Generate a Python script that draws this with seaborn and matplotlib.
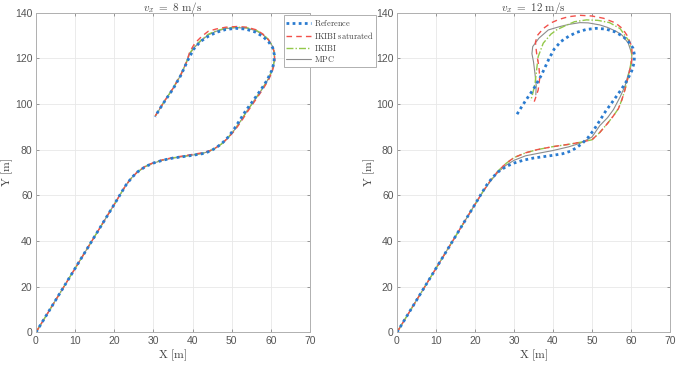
import matplotlib
matplotlib.use("Agg")
import matplotlib.pyplot as plt
import seaborn as sns
import pandas as pd

# ---------------- data ----------------
ref_x = [0, 5, 10, 15, 20, 21.5, 23, 24.5, 26, 28, 30, 32.5, 35, 37.5, 40, 42.5, 44.5, 46, 47.5, 49,
         50.5, 52, 53.5, 55.5, 57.5, 59, 60.2, 60.8, 60.9, 60.5, 59.5, 58, 56, 53.5, 51, 48.5, 46, 44,
         42, 40.3, 38.9, 37, 35, 33, 31.5, 30.4]
ref_y = [0, 14, 28, 42, 56, 60.3, 64.5, 67.8, 70.3, 72.6, 74.1, 75.4, 76.3, 76.9, 77.5, 78.2, 79.3, 80.8,
         82.7, 85.3, 88.7, 92.7, 96.8, 101.5, 106.3, 110.3, 114.5, 118, 121.5, 124.5, 127, 129.5, 131.5,
         132.8, 133.1, 132.6, 131.3, 129.6, 127.3, 124, 119.5, 112.5, 106.5, 101.5, 97.5, 94.4]

# v_x = 8 m/s
sat8_x = [0, 5, 10, 15, 20, 21.5, 23, 24.5, 26, 28, 30, 32.5, 35, 37.5, 40, 42.5, 44.5, 46, 47.5, 49,
          50.7, 52.3, 54, 56, 58, 59.5, 60.5, 61, 60.9, 60.3, 59.2, 57.8, 56.2, 53.8, 51.3, 48.5, 46, 44,
          42.3, 40.6, 39.3, 38.5, 37, 35, 33, 31.5, 30.5]
sat8_y = [0, 14, 28, 42, 56, 60.3, 64.5, 67.8, 70.4, 72.8, 74.3, 75.6, 76.5, 77.2, 77.9, 78.6, 79.6, 80.9,
          82.6, 85, 88.2, 92, 96.5, 101.5, 106.5, 110.8, 115, 119, 122.5, 125.8, 128.5, 130.8, 132.5,
          133.6, 133.9, 133.6, 132.8, 131.8, 129.5, 126.6, 122.9, 118.5, 112.8, 106.8, 101.7, 97.6, 94.8]
ik8_x = [0, 5, 10, 15, 20, 21.5, 23, 24.5, 26, 28, 30, 32.5, 35, 37.5, 40, 42.5, 44.5, 46, 47.5, 49,
         50.6, 52.2, 53.8, 55.8, 57.8, 59.3, 60.4, 60.9, 60.9, 60.4, 59.4, 58, 56.2, 53.8, 51.2, 48.5, 46,
         44, 42.2, 40.5, 39.2, 38.5, 37, 35, 33, 31.5, 30.5]
ik8_y = [0, 14, 28, 42, 56, 60.3, 64.5, 67.8, 70.3, 72.7, 74.2, 75.5, 76.4, 77, 77.7, 78.4, 79.5, 80.8,
         82.6, 85.1, 88.4, 92.3, 96.6, 101.6, 106.6, 110.8, 115, 119, 122.3, 125.5, 128.2, 130.5, 132.3,
         133.4, 133.6, 133.2, 132, 130.5, 128, 125.2, 122, 118.6, 112.8, 106.8, 101.7, 97.6, 94.8]
mpc8_x = [0, 5, 10, 15, 20, 21.5, 23, 24.5, 26, 28, 30, 32.5, 35, 37.5, 40, 42.5, 44.5, 46, 47.5, 49,
          50.6, 52.2, 53.8, 55.8, 57.8, 59.3, 60.4, 60.9, 60.9, 60.4, 59.4, 58, 56.2, 53.8, 51.2, 48.5, 46,
          44, 42.2, 40.5, 39.2, 38.5, 37, 35, 33, 31.5, 30.5]
mpc8_y = [0, 14, 28, 42, 56, 60.3, 64.5, 67.8, 70.3, 72.6, 74.1, 75.4, 76.3, 76.9, 77.6, 78.3, 79.4, 80.8,
          82.6, 85.1, 88.4, 92.3, 96.6, 101.6, 106.6, 110.8, 115, 119, 122.3, 125.3, 128, 130.3, 132.1,
          133.2, 133.4, 133, 131.8, 130.2, 127.7, 124.8, 121.7, 118.4, 112.7, 106.7, 101.6, 97.5, 94.7]

# v_x = 12 m/s
sat12_x = [0, 5, 10, 15, 20, 22, 24, 26, 28, 30, 33, 36, 40, 44, 47, 50, 52, 54, 55.5, 56.8, 57.7, 58.5,
           59.3, 60, 60.3, 60.2, 59.2, 57.8, 56, 53, 50, 47, 44, 41.5, 39.5, 37.5, 36, 35.5, 35.8, 36.4,
           36.6, 36.2, 35.5, 35.2]
sat12_y = [0, 14, 28, 42, 56, 61.5, 66.5, 70.8, 74, 76.5, 78.6, 80, 81.3, 82.3, 83.2, 84.3, 87.5, 91.5,
           94.8, 98, 102, 106.5, 112, 117, 121, 125, 129.5, 133, 135.5, 137.5, 138.5, 138.8, 138.2, 137,
           135.5, 133, 130, 127, 122.2, 116.3, 111.3, 106.1, 102.5, 101]
ik12_x = [0, 5, 10, 15, 20, 22, 24, 26, 28, 30, 33, 36, 40, 44, 47, 50, 52, 54, 55.5, 56.8, 57.7, 58.5,
          59.3, 59.9, 60.2, 60, 59.3, 57.2, 54.5, 51.5, 48.6, 45.5, 43.1, 41, 39.5, 37.5, 36.2, 35.8, 35.4,
          34.8, 34.3]
ik12_y = [0, 14, 28, 42, 56, 61.5, 66.5, 70.8, 74, 76.5, 78.6, 80, 81.3, 82.3, 83.2, 84.3, 87.5, 91.5,
          94.8, 98, 102, 106.5, 112, 117, 121, 124.5, 128, 133, 135.6, 136.6, 136.8, 136, 134.2, 132.5,
          130.6, 126.6, 120.7, 114.9, 109, 104.5, 101.5]
mpc12_x = [0, 5, 10, 15, 20, 22, 24, 26, 28, 30, 33, 36, 40, 44, 47, 50, 52, 54, 55.5, 57.2, 58.5, 59.3,
           60.2, 60.2, 59.3, 57.8, 56.3, 54, 52, 49, 46.9, 44, 41.8, 38.8, 36.4, 34.8, 34.6, 35, 35.4,
           35.7, 35.6]
mpc12_y = [0, 14, 28, 42, 56, 61.5, 66.3, 70.3, 73.2, 75.3, 77.3, 78.3, 79.6, 81.2, 82.8, 85.5, 90.5,
           94, 97.5, 103, 108, 113, 118, 122, 126.6, 130, 131.7, 133.5, 134.6, 135.5, 135.6, 134.8, 133.9,
           132.4, 128.8, 125.1, 122, 118.5, 113, 108, 104]

titles = [r"$v_x\ =\ 8\ \mathrm{m/s}$", r"$v_x\ =\ 12\ \mathrm{m/s}$"]
series_names = ["Reference", "IKIBI saturated", "IKIBI", "MPC"]
x_ticks = [0, 10, 20, 30, 40, 50, 60, 70]
y_ticks = [0, 20, 40, 60, 80, 100, 120, 140]

# ---------------- style ----------------
sns.set_theme(style="whitegrid")
plt.rcParams["font.family"] = ["Liberation Sans", "DejaVu Sans"]
plt.rcParams["mathtext.fontset"] = "cm"

colors = {"Reference": "#2a7bd0", "IKIBI saturated": "#f2504a", "IKIBI": "#93c84a", "MPC": "#8c8c8c"}
styles = {"Reference": dict(linestyle=(0, (1, 1.2)), linewidth=2.0),
          "IKIBI saturated": dict(linestyle=(0, (4, 3)), linewidth=1.0),
          "IKIBI": dict(linestyle=(0, (5, 1.5, 1, 1.5)), linewidth=1.0),
          "MPC": dict(linestyle="-", linewidth=0.8)}

fig = plt.figure(figsize=(6.84, 3.67), dpi=100)
ax1 = fig.add_axes([0.0526, 0.0946, 0.4006, 0.8711])
ax2 = fig.add_axes([0.5804, 0.0946, 0.3991, 0.8711])

panels = [
    (ax1, [(ref_x, ref_y), (sat8_x, sat8_y), (ik8_x, ik8_y), (mpc8_x, mpc8_y)]),
    (ax2, [(ref_x, ref_y), (sat12_x, sat12_y), (ik12_x, ik12_y), (mpc12_x, mpc12_y)]),
]

for i, (ax, data) in enumerate(panels):
    ax.set_facecolor("white")
    for k in [3, 2, 1, 0]:
        name = series_names[k]
        xs, ys = data[k]
        df = pd.DataFrame({"x": xs, "y": ys})
        sns.lineplot(data=df, x="x", y="y", sort=False, estimator=None, ax=ax,
                     color=colors[name], label=name if i == 0 else None,
                     legend=False, **styles[name])
    ax.set_xlim(0, 70)
    ax.set_ylim(0, 140)
    ax.set_xticks(x_ticks)
    ax.set_yticks(y_ticks)
    ax.grid(True, color="#e8e8e8", linewidth=0.6)
    for s in ax.spines.values():
        s.set_visible(True)
        s.set_color("#b0b0b0")
        s.set_linewidth(0.7)
    ax.tick_params(axis="both", direction="in", length=2.5, width=0.6, color="#888888",
                   labelsize=7.5, labelcolor="#555555", pad=2.5,
                   top=True, right=True, bottom=True, left=True)
    ax.set_xlabel(r"$\mathrm{X\ [m]}$", fontsize=8.5, color="#444444", labelpad=1)
    ax.set_ylabel(r"$\mathrm{Y\ [m]}$", fontsize=8.5, color="#444444")
    ax.yaxis.set_label_coords(-0.075, 0.5)
    ax.set_title(titles[i], fontsize=8, color="#444444", pad=1.5)

h, l = ax1.get_legend_handles_labels()
hd = dict(zip(l, h))
leg = fig.legend([hd[n] for n in series_names],
                 [r"$\mathrm{Reference}$", r"$\mathrm{IKIBI\ saturated}$", r"$\mathrm{IKIBI}$", r"$\mathrm{MPC}$"],
                 loc="upper left", bbox_to_anchor=(0.415, 0.958), fontsize=6.0,
                 frameon=True, fancybox=False, framealpha=1, edgecolor="#b0b0b0",
                 handlelength=3.0, handletextpad=0.3, borderpad=0.3, labelspacing=0.22,
                 borderaxespad=0)
leg.get_frame().set_linewidth(0.7)
for t in leg.get_texts():
    t.set_color("#444444")

fig.savefig("out.png", dpi=100, facecolor="white")
